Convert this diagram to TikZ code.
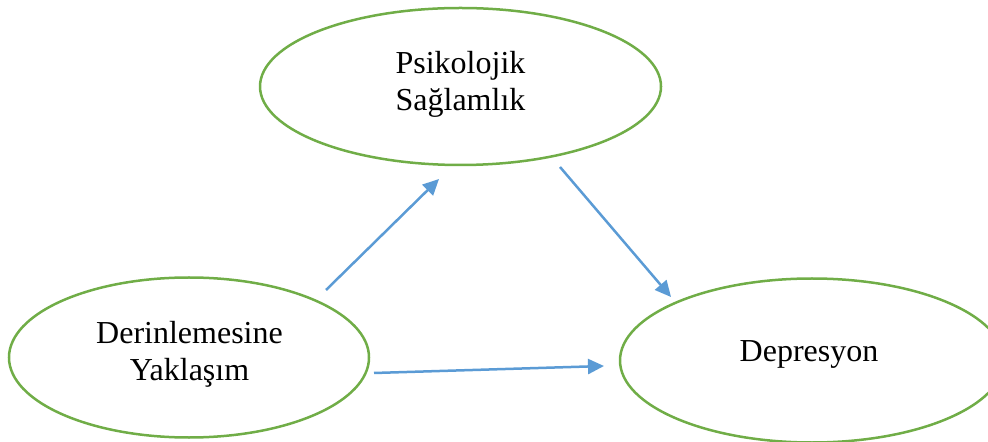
\documentclass[tikz,border=0pt]{standalone}
\usepackage{fontspec}
\setmainfont{Liberation Serif}
\usetikzlibrary{shapes.geometric,arrows.meta}
\definecolor{ovalgreen}{HTML}{70AD47}
\definecolor{arrowblue}{HTML}{5B9BD5}
\tikzset{
  oval/.style={ellipse, draw=ovalgreen, line width=1.25pt, inner sep=0pt, outer sep=0pt},
  ovaltext/.style={align=center, inner sep=0pt, font=\fontsize{16}{18.5}\selectfont},
  link/.style={draw=arrowblue, line width=1.25pt,
    -{Triangle[length=8pt,width=7.5pt]}}
}
\begin{document}
\begin{tikzpicture}[x=0.5pt,y=-0.5pt]
  \useasboundingbox (0,0) rectangle (988,442);

  % the three variables
  \node[oval, minimum width=200.5pt, minimum height=78.5pt] (psi) at (460.5,86.5) {};
  \node[oval, minimum width=180pt, minimum height=80pt] (der) at (189,357.5) {};
  \node[oval, minimum width=192pt, minimum height=82pt] (dep) at (812,360.5) {};

  \node[ovaltext] (psitext) at (460.5,84) {Psikolojik\\Sağlamlık};
  \node[ovaltext] (dertext) at (189.5,354.5) {Derinlemesine\\Yaklaşım};
  \node[ovaltext] (deptext) at (809,354.5) {Depresyon};

  % free-standing arrow ends between the ovals
  \coordinate (derOut) at (326,290);
  \coordinate (psiIn)  at (439,179);
  \coordinate (psiOut) at (560,167);
  \coordinate (depInA) at (671,297);
  \coordinate (derRight) at (374,373);
  \coordinate (depInB) at (604,366);

  \draw[link] (derOut) -- (psiIn);
  \draw[link] (psiOut) -- (depInA);
  \draw[link] (derRight) -- (depInB);
\end{tikzpicture}
\end{document}
